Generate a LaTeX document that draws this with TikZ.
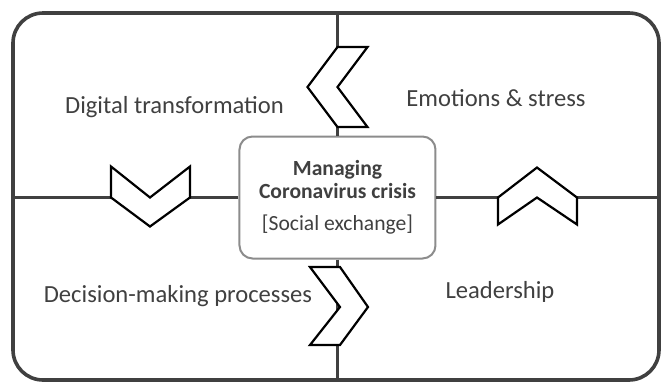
\documentclass[tikz,border=0pt]{standalone}
\usepackage{fontspec}
\setmainfont{Carlito}

\definecolor{framegray}{HTML}{404040}
\definecolor{boxgray}{HTML}{8C8C8C}
\definecolor{textgray}{HTML}{404040}

\tikzset{
    outerframe/.style={draw=framegray, line width=1.8pt, rounded corners=15pt,
        minimum width=323pt, minimum height=183.5pt, inner sep=0pt},
    divider/.style={draw=framegray, line width=1.6pt},
    chevron/.style={draw=black, fill=white, line width=1.1pt, line join=miter},
    crisisbox/.style={draw=boxgray, fill=white, line width=1pt, rounded corners=6.5pt,
        minimum width=98pt, minimum height=61pt, align=center, text=textgray,
        font=\fontsize{10.8}{11.5}\selectfont},
    area/.style={text=textgray, font=\fontsize{12.3}{14}\selectfont, anchor=base, inner sep=0pt},
}

\begin{document}
\begin{tikzpicture}[x=0.5pt, y=-0.5pt]
            \useasboundingbox (0,0) rectangle (661,382);

            % Rahmen
            \node[outerframe] (frame) at (336,196.5) {};

            % Mitte
            \node[crisisbox] (crisis) at (337.5,197.5)
                {\textbf{Managing}\\\textbf{Coronavirus crisis}\\[4.5pt]{[Social exchange]}};

            % Trennlinien
            \draw[divider] (crisis.north) -- (crisis.north |- frame.north);
            \draw[divider] (crisis.south) -- (crisis.south |- frame.south);
            \draw[divider] (crisis.west) -- (crisis.west -| frame.west);
            \draw[divider] (crisis.east) -- (crisis.east -| frame.east);

            % Pfeile
            \draw[chevron] (337.5,47) -- (367.5,47) -- (337.5,87) -- (367.5,127) -- (337.5,127) -- (307.5,87) -- cycle;
            \draw[chevron] (111,166.5) -- (150,197.5) -- (190,166.5) -- (190,197.5) -- (150,226.5) -- (111,197.5) -- cycle;
            \draw[chevron] (498,224.5) -- (498,197.5) -- (537,167.5) -- (577,197.5) -- (577,224.5) -- (537,197.5) -- cycle;
            \draw[chevron] (310,267) -- (340,267) -- (368,307) -- (340,345) -- (310,345) -- (340,307) -- cycle;

            % Beschriftungen
            \node[area] (digital) at (174.5,113) {Digital transformation};
            \node[area] (emotions) at (496,106) {Emotions \& stress};
            \node[area] (decision) at (178,302) {Decision-making processes};
            \node[area] (leadership) at (500,298) {Leadership};
        \end{tikzpicture}
\end{document}
